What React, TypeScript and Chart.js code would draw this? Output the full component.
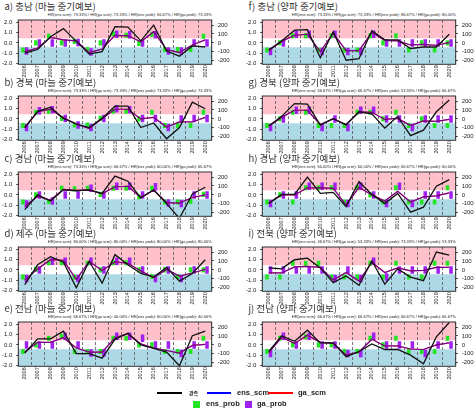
import React, { useEffect, useRef } from "react";
import { Chart, registerables } from "chart.js";
Chart.register(...registerables);

const years = ["2006","2007","2008","2009","2010","2011","2012","2013","2014","2015","2016","2017","2018","2019","2020"];
const leftTicks = [-2, -1, 0, 1, 2];
const rightTicks = [-200, -100, 0, 100, 200];
const tercile = 0.43;

// a) 충남 마늘
const titleA = "a) 충남 (마늘 중기예보)";
const hrA = ["73.33%", "73.33%", "66.67%", "73.33%"];
const obsA = [-1.0, -0.65, 0.6, 1.4, 0.15, -1.1, -0.85, 1.6, 1.55, 0.2, 1.75, -0.8, -1.3, -0.3, -0.4];
const ensScmA = [-0.85, -0.5, 0.55, 0.3, 0.2, -0.95, -0.6, 0.75, 0.7, 0.1, 1.1, -0.65, -0.95, -0.2, 0.3];
const gaScmA = [-0.85, -0.5, 0.55, 0.3, 0.2, -0.95, -0.6, 0.75, 0.7, 0.1, 1.1, -0.65, -0.95, -0.2, 0.3];
const ensProbA = [-0.7, 0.0, 0.65, 0.0, 0.15, -0.65, 0.0, 0.9, 0.75, -0.05, 0.85, -0.65, -0.65, -0.65, 0.65];
const gaProbA = [-0.8, 0.0, 0.0, 0.0, 0.05, -0.9, 0.0, 0.85, 0.8, 0.0, 0.8, -0.8, -0.8, 0.0, 0.0];

// b) 경북 마늘
const titleB = "b) 경북 (마늘 중기예보)";
const hrB = ["73.33%", "73.33%", "73.33%", "73.33%"];
const obsB = [-0.85, 0.75, 1.15, 0.05, -0.5, -0.85, 0.05, 1.25, 1.25, -0.85, -0.4, -1.95, -0.85, 1.65, 1.0];
const ensScmB = [-0.85, 0.7, 0.95, 0.1, -0.5, -0.95, 0.05, 0.95, 0.95, 0.0, 0.15, -0.8, -0.3, -0.3, 0.15];
const gaScmB = [-0.85, 0.7, 0.95, 0.1, -0.5, -0.95, 0.05, 0.95, 0.95, 0.0, 0.15, -0.8, -0.3, -0.3, 0.15];
const ensProbB = [-0.65, 0.65, 0.75, 0.05, -0.6, -0.6, 0.05, 0.75, 0.75, 0.0, 0.65, -0.65, -0.65, -0.65, 0.65];
const gaProbB = [-0.85, 0.8, 0.9, 0.05, -0.6, -0.85, 0.05, 1.0, 0.9, 0.05, 0.05, -0.85, 0.0, 0.05, 0.05];

// c) 경남 마늘
const titleC = "c) 경남 (마늘 중기예보)";
const hrC = ["73.33%", "66.67%", "60.00%", "66.67%"];
const obsC = [-1.45, 0.0, -0.6, 0.5, 0.4, 0.5, 0.15, 1.85, 1.35, -0.3, 0.5, -0.85, -2.3, 0.1, 0.75];
const ensScmC = [-1.1, -0.15, -0.5, 0.55, 0.45, 0.5, 0.1, 0.8, 0.85, -0.25, 0.45, -0.75, -0.8, -0.25, 0.0];
const gaScmC = [-1.1, -0.15, -0.5, 0.55, 0.45, 0.5, 0.1, 0.8, 0.85, -0.25, 0.45, -0.75, -0.8, -0.25, 0.0];
const ensProbC = [-0.7, 0.0, -0.65, 0.65, 0.6, 0.65, 0.05, 0.65, 0.65, -0.2, 0.65, -0.7, -0.7, -0.65, 0.05];
const gaProbC = [-0.9, 0.0, -0.6, 0.0, 0.0, 0.65, 0.0, 0.85, 0.85, 0.0, 0.8, -0.8, -0.85, 0.0, 0.0];

// d) 제주 마늘
const titleD = "d) 제주 (마늘 중기예보)";
const hrD = ["80.00%", "80.00%", "80.00%", "80.00%"];
const obsD = [-1.45, 0.5, 1.3, 0.75, -1.75, 0.85, -1.3, 1.5, 0.5, -0.35, -0.7, 0.25, -1.1, -0.35, 1.0];
const ensScmD = [-1.0, 0.1, 1.0, 0.95, -0.95, 0.85, -0.05, 0.8, 0.65, -0.1, -0.75, 0.05, -0.6, -0.3, 0.05];
const gaScmD = [-1.0, 0.1, 1.0, 0.95, -0.95, 0.85, -0.05, 0.8, 0.65, -0.1, -0.75, 0.05, -0.6, -0.3, 0.05];
const ensProbD = [-0.7, 0.05, 0.7, 0.7, -0.7, 0.65, 0.0, 0.7, 0.7, 0.0, -0.65, 0.0, -0.65, 0.0, 0.0];
const gaProbD = [-0.85, 0.0, 0.85, 0.85, -0.85, 0.85, 0.0, 0.85, 0.85, 0.0, -0.85, 0.0, -0.85, 0.0, 0.0];

// e) 전남 마늘
const titleE = "e) 전남 (마늘 중기예보)";
const hrE = ["66.67%", "40.00%", "60.00%", "40.00%"];
const obsE = [-0.8, 0.6, 0.6, 1.35, -0.85, -0.85, -1.3, 0.55, 1.15, 0.0, -0.35, -0.7, -2.05, 0.9, 1.35];
const ensScmE = [-0.7, 0.25, 0.25, 0.7, -0.3, -0.7, -0.7, 0.7, 1.1, 0.1, -0.3, -0.55, -0.8, -0.05, 0.05];
const gaScmE = [-0.7, 0.25, 0.25, 0.7, -0.3, -0.7, -0.7, 0.7, 1.1, 0.1, -0.3, -0.55, -0.8, -0.05, 0.05];
const ensProbE = [-0.65, 0.0, 0.65, 0.85, -0.65, -0.65, -0.65, 0.65, 0.65, 0.0, 0.0, -0.65, -0.65, -0.65, 0.65];
const gaProbE = [0.0, 0.0, 0.0, 0.85, 0.0, -0.8, -0.8, 0.85, 0.85, 0.65, 0.0, 0.0, -0.85, 0.0, 0.0];

// f) 충남 양파
const titleF = "f) 충남 (양파 중기예보)";
const hrF = ["73.33%", "73.33%", "86.67%", "80.00%"];
const obsF = [-0.7, 0.2, 1.25, 1.3, -1.45, 1.1, -1.7, -1.55, 1.2, 0.3, 0.3, -0.55, -0.4, -0.4, 0.85];
const ensScmF = [-0.75, 0.15, 0.75, 0.85, -0.85, 0.95, -0.75, -0.75, 1.05, 0.25, 0.2, -0.2, -0.15, -0.25, 0.05];
const gaScmF = [-0.75, 0.15, 0.75, 0.85, -0.85, 0.95, -0.75, -0.75, 1.05, 0.25, 0.2, -0.2, -0.15, -0.25, 0.05];
const ensProbF = [-0.7, 0.0, 0.7, 0.7, -0.7, 0.7, -0.7, -0.7, 0.7, 0.0, 0.7, -0.7, 0.0, -0.7, 0.0];
const gaProbF = [-0.85, 0.0, 0.85, 0.85, -0.85, 0.85, -0.85, -0.85, 0.85, 0.0, 0.0, 0.0, 0.0, 0.0, 0.0];

// g) 경북 양파
const titleG = "g) 경북 (양파 중기예보)";
const hrG = ["66.67%", "66.67%", "53.33%", "66.67%"];
const obsG = [-0.7, 0.25, 1.5, 1.45, -0.6, 0.05, -0.6, 0.7, 0.5, -0.9, 0.25, -1.65, -1.1, 0.7, 1.85];
const ensScmG = [-0.7, 0.15, 0.85, 0.85, -0.55, 0.0, -0.55, 0.7, 0.65, -0.05, 0.05, -0.65, -0.2, -0.25, -0.05];
const gaScmG = [-0.7, 0.15, 0.85, 0.85, -0.55, 0.0, -0.55, 0.7, 0.65, -0.05, 0.05, -0.65, -0.2, -0.25, -0.05];
const ensProbG = [-0.65, 0.0, 0.65, 0.65, -0.65, -0.65, -0.65, 0.65, 0.65, 0.0, 0.65, -0.65, 0.0, -0.65, -0.65];
const gaProbG = [-0.85, 0.0, 0.85, 0.85, -0.85, 0.0, -0.85, 0.85, 0.85, 0.0, 0.0, -0.85, 0.0, 0.0, 0.0];

// h) 경남 양파
const titleH = "h) 경남 (양파 중기예보)";
const hrH = ["60.00%", "60.00%", "66.67%", "60.00%"];
const obsH = [-0.85, 0.05, 0.05, 1.75, 0.15, 0.25, -1.15, 1.3, 0.05, -0.85, 0.15, -1.7, -1.2, 0.85, 1.5];
const ensScmH = [-0.8, 0.0, 0.0, 0.7, 0.7, 0.65, -1.0, 0.75, 0.0, -0.6, 0.35, -0.7, -0.2, -0.1, 0.2];
const gaScmH = [-0.8, 0.0, 0.0, 0.7, 0.7, 0.65, -1.0, 0.75, 0.0, -0.6, 0.35, -0.7, -0.2, -0.1, 0.2];
const ensProbH = [-0.7, 0.0, -0.7, 0.7, 0.7, 0.7, -0.7, 0.7, 0.0, -0.7, 0.7, -0.7, -0.7, -0.7, 0.7];
const gaProbH = [-0.85, 0.0, 0.0, 0.85, 0.85, 0.85, -0.85, 0.85, 0.0, -0.85, 0.85, -0.85, 0.0, 0.0, 0.0];

// i) 전북 양파
const titleI = "i) 전북 (양파 중기예보)";
const hrI = ["46.67%", "53.33%", "73.33%", "53.33%"];
const obsI = [0.2, 0.1, 1.0, 1.15, 0.2, -1.25, -0.6, -1.5, 0.9, -1.4, 0.1, -0.7, -1.05, 1.75, 1.45];
const ensScmI = [-0.3, -0.3, 0.3, 0.35, 0.25, -1.0, -0.25, -1.1, 0.75, -0.25, 0.2, -0.1, -0.05, 0.25, 0.25];
const gaScmI = [-0.3, -0.3, 0.3, 0.35, 0.25, -1.0, -0.25, -1.1, 0.75, -0.25, 0.2, -0.1, -0.05, 0.25, 0.25];
const ensProbI = [-0.7, -0.7, 0.65, 0.65, 0.65, -0.7, -0.7, -0.7, 0.65, -0.7, 0.65, -0.7, -0.7, 0.65, 0.65];
const gaProbI = [0.0, 0.0, 0.0, 0.0, 0.0, -0.85, 0.0, -0.85, 0.85, -0.7, 0.0, 0.0, 0.0, 0.0, 0.0];

// j) 전남 양파
const titleJ = "j) 전남 (양파 중기예보)";
const hrJ = ["66.67%", "66.67%", "66.67%", "66.67%"];
const obsJ = [-0.65, 0.9, 0.35, 1.45, 0.2, 0.2, -1.15, -0.65, 0.1, -0.45, -0.45, -1.0, -1.85, 0.8, 2.2];
const ensScmJ = [-0.75, 0.75, 0.15, 0.95, 0.25, 0.15, -1.0, -0.7, 0.55, -0.1, -0.1, -0.4, -0.45, 0.0, 0.2];
const gaScmJ = [-0.75, 0.75, 0.15, 0.95, 0.25, 0.15, -1.0, -0.7, 0.55, -0.1, -0.1, -0.4, -0.45, 0.0, 0.2];
const ensProbJ = [-0.65, 0.65, 0.0, 0.8, 0.0, 0.0, -0.65, -0.65, 0.65, 0.0, 0.65, -0.65, -0.65, -0.65, 0.65];
const gaProbJ = [-0.85, 0.85, 0.0, 0.85, 0.0, 0.0, -0.85, -0.85, 0.85, 0.0, 0.0, 0.0, -0.85, 0.0, 0.0];

const legendLabels = ["관측", "ens_scm", "ga_scm", "ens_prob", "ga_prob"];

type PanelData = {
  title: string; hr: string[]; obs: number[]; ens: number[]; ga: number[]; ensProb: number[]; gaProb: number[];
};

const leftPanels: PanelData[] = [
  { title: titleA, hr: hrA, obs: obsA, ens: ensScmA, ga: gaScmA, ensProb: ensProbA, gaProb: gaProbA },
  { title: titleB, hr: hrB, obs: obsB, ens: ensScmB, ga: gaScmB, ensProb: ensProbB, gaProb: gaProbB },
  { title: titleC, hr: hrC, obs: obsC, ens: ensScmC, ga: gaScmC, ensProb: ensProbC, gaProb: gaProbC },
  { title: titleD, hr: hrD, obs: obsD, ens: ensScmD, ga: gaScmD, ensProb: ensProbD, gaProb: gaProbD },
  { title: titleE, hr: hrE, obs: obsE, ens: ensScmE, ga: gaScmE, ensProb: ensProbE, gaProb: gaProbE },
];
const rightPanels: PanelData[] = [
  { title: titleF, hr: hrF, obs: obsF, ens: ensScmF, ga: gaScmF, ensProb: ensProbF, gaProb: gaProbF },
  { title: titleG, hr: hrG, obs: obsG, ens: ensScmG, ga: gaScmG, ensProb: ensProbG, gaProb: gaProbG },
  { title: titleH, hr: hrH, obs: obsH, ens: ensScmH, ga: gaScmH, ensProb: ensProbH, gaProb: gaProbH },
  { title: titleI, hr: hrI, obs: obsI, ens: ensScmI, ga: gaScmI, ensProb: ensProbI, gaProb: gaProbI },
  { title: titleJ, hr: hrJ, obs: obsJ, ens: ensScmJ, ga: gaScmJ, ensProb: ensProbJ, gaProb: gaProbJ },
];

const GREEN = "#22e422";
const PURPLE = "#a020f0";
const PINK = "#ffc0cb";
const LIGHTBLUE = "#add8e6";

const bandPlugin = {
  id: "bands",
  beforeDraw(chart: any) {
    const { ctx, chartArea: a, scales } = chart;
    const y = scales.y;
    const yHi = y.getPixelForValue(tercile);
    const yLo = y.getPixelForValue(-tercile);
    ctx.save();
    ctx.fillStyle = PINK;
    ctx.fillRect(a.left, a.top, a.right - a.left, yHi - a.top);
    ctx.fillStyle = "#ffffff";
    ctx.fillRect(a.left, yHi, a.right - a.left, yLo - yHi);
    ctx.fillStyle = LIGHTBLUE;
    ctx.fillRect(a.left, yLo, a.right - a.left, a.bottom - yLo);
    ctx.restore();
  },
  afterDatasetsDraw(chart: any) {
    const { ctx, chartArea: a } = chart;
    ctx.save();
    ctx.strokeStyle = "#333";
    ctx.lineWidth = 1;
    ctx.strokeRect(a.left, a.top, a.right - a.left, a.bottom - a.top);
    ctx.restore();
  },
};

const TICK_FONT = { family: "'Liberation Sans', Arial, sans-serif", size: 6 };
const PH = 0.25;
const GH = 0.37;

function Panel({ p, x, y }: { p: PanelData; x: number; y: number }) {
  const ref = useRef<HTMLCanvasElement>(null);
  useEffect(() => {
    const chart = new Chart(ref.current as HTMLCanvasElement, {
      type: "bar",
      data: {
        labels: years,
        datasets: [
          { type: "line", label: legendLabels[0], data: p.obs, borderColor: "#111", borderWidth: 1.3, pointRadius: 0, tension: 0, order: 0 } as any,
          { type: "line", label: legendLabels[1], data: p.ens, borderColor: "rgba(0,0,255,0.55)", borderWidth: 1.2, pointRadius: 0, tension: 0, order: 1 } as any,
          { type: "line", label: legendLabels[2], data: p.ga, borderColor: "#ff0000", borderWidth: 1.2, pointRadius: 0, tension: 0, order: 2 } as any,
          { type: "bar", label: legendLabels[3], data: p.ensProb.map((v) => [v - PH, v + PH]), backgroundColor: GREEN, borderWidth: 0, categoryPercentage: 0.55, barPercentage: 1.0, order: 3 } as any,
          { type: "bar", label: legendLabels[4], data: p.gaProb.map((v) => [v - GH, v + GH]), backgroundColor: PURPLE, borderWidth: 0, categoryPercentage: 0.55, barPercentage: 1.0, order: 4 } as any,
        ],
      },
      options: {
        responsive: false,
        animation: false,
        layout: { autoPadding: false, padding: { top: 4, bottom: 0, left: 0, right: 0 } },
        plugins: { legend: { display: false }, tooltip: { enabled: false }, title: { display: false } },
        scales: {
          x: {
            type: "category",
            offset: true,
            grid: { offset: true, color: "#555", lineWidth: 0.8, drawTicks: false },
            border: { display: false, dash: [3, 2] },
            ticks: { minRotation: 90, maxRotation: 90, autoSkip: false, font: { ...TICK_FONT, size: 5.5 }, color: "#222", padding: 1 },
            afterFit(s: any) { s.height = 15.7; s.paddingLeft = 0; s.paddingRight = 0; },
          },
          y: {
            type: "linear",
            position: "left",
            min: -2.1,
            max: 2.25,
            grid: { drawOnChartArea: false, tickLength: 2, color: "#333" },
            border: { display: false },
            ticks: { font: TICK_FONT, color: "#222", padding: 4, callback: (v: any) => Number(v).toFixed(1) },
            afterBuildTicks(s: any) { s.ticks = leftTicks.map((v) => ({ value: v })); },
            afterFit(s: any) { s.width = 18.3; s.paddingTop = 0; s.paddingBottom = 0; },
          },
          y1: {
            type: "linear",
            position: "right",
            min: -242,
            max: 258,
            grid: { drawOnChartArea: false, tickLength: 2, color: "#333" },
            border: { display: false },
            ticks: { font: TICK_FONT, color: "#222", padding: 4 },
            afterBuildTicks(s: any) { s.ticks = rightTicks.map((v) => ({ value: v })); },
            afterFit(s: any) { s.width = 22.3; s.paddingTop = 0; s.paddingBottom = 0; },
          },
        },
      } as any,
      plugins: [bandPlugin],
    });
    return () => chart.destroy();
  }, [p]);

  const sub = `HR(ens scm): ${p.hr[0]} / HR(ga scm): ${p.hr[1]} / HR(ens prob): ${p.hr[2]} / HR(ga prob): ${p.hr[3]}`;
  const plotRight = x + 211.7;
  return (
    <>
      <div style={{ position: "absolute", left: x + 4.5, top: y + 1, fontFamily: "'Noto Sans CJK KR', sans-serif", fontSize: 9.5, lineHeight: "11px", color: "#333", whiteSpace: "nowrap" }}>{p.title}</div>
      <div style={{ position: "absolute", right: 474 - plotRight, top: y + 10.5, fontFamily: "'Liberation Sans', Arial, sans-serif", fontSize: 8, lineHeight: "8px", transform: "scale(0.5)", transformOrigin: "right center", whiteSpace: "nowrap", color: "#222" }}>{sub}</div>
      <div style={{ position: "absolute", left: x, top: y + 16, width: 234, height: 64 }}>
        <canvas ref={ref} width={234} height={64} style={{ display: "block" }} />
      </div>
    </>
  );
}

function LegendLine({ x, y, w, color, label, tx, small }: any) {
  return (
    <>
      <div style={{ position: "absolute", left: x, top: y - 1, width: w, height: 2, background: color }} />
      <div style={{ position: "absolute", left: tx, top: y - 4, fontFamily: small ? "'Noto Sans CJK KR', sans-serif" : "'Liberation Sans', Arial, sans-serif", fontWeight: "bold", fontSize: small ? 5 : 7.5, lineHeight: "8px", color: "#222", whiteSpace: "nowrap" }}>{label}</div>
    </>
  );
}

function LegendBox({ x, y, color, label, tx }: any) {
  return (
    <>
      <div style={{ position: "absolute", left: x, top: y - 3.5, width: 7, height: 7, background: color }} />
      <div style={{ position: "absolute", left: tx, top: y - 4, fontFamily: "'Liberation Sans', Arial, sans-serif", fontWeight: "bold", fontSize: 7.5, lineHeight: "8px", color: "#222", whiteSpace: "nowrap" }}>{label}</div>
    </>
  );
}

export default function App() {
  const rowTops = [0, 76, 152, 227, 302];
  return (
    <div style={{ position: "fixed", left: 0, top: 0, width: 474, height: 412, overflow: "hidden", background: "#fff" }}>
      {leftPanels.map((p, i) => <Panel key={"l" + i} p={p} x={0} y={rowTops[i]} />)}
      {rightPanels.map((p, i) => <Panel key={"r" + i} p={p} x={244} y={rowTops[i]} />)}
      <LegendLine x={157} y={392.7} w={25} color="#000" label={legendLabels[0]} tx={189} small />
      <LegendLine x={207} y={392.7} w={24} color="#0000ff" label={legendLabels[1]} tx={237} />
      <LegendLine x={268} y={392.7} w={25} color="#ff0000" label={legendLabels[2]} tx={298} />
      <LegendBox x={193} y={404} color={GREEN} label={legendLabels[3]} tx={206} />
      <LegendBox x={245} y={404} color={PURPLE} label={legendLabels[4]} tx={257} />
    </div>
  );
}
